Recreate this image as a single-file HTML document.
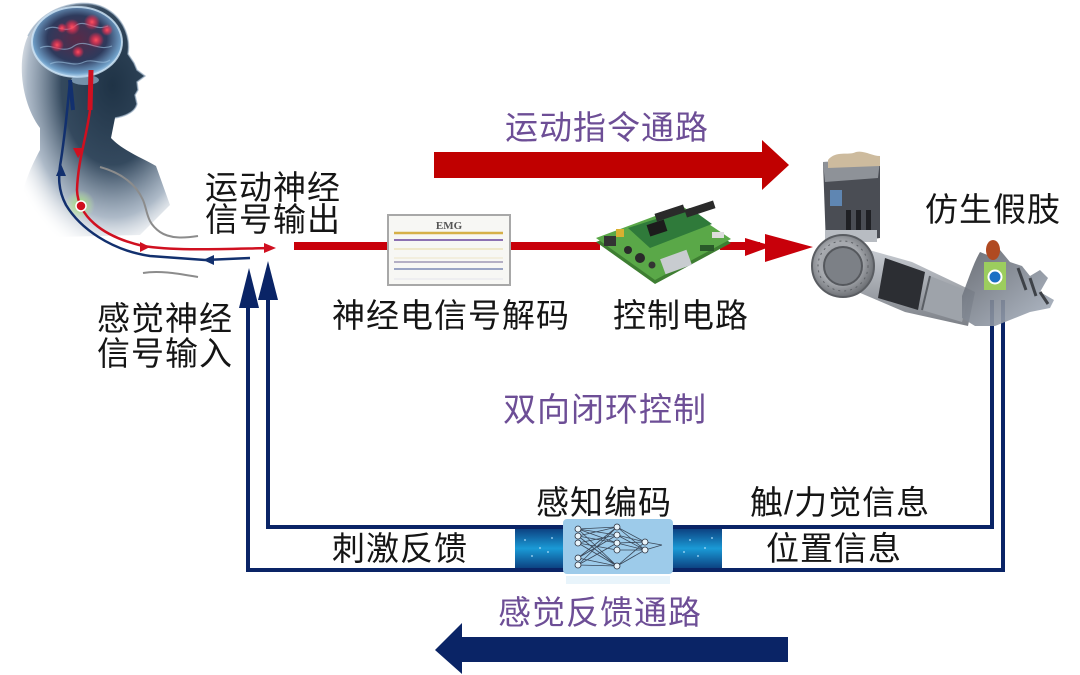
<!DOCTYPE html>
<html><head><meta charset="utf-8">
<style>
html,body{margin:0;padding:0;background:#fff;}
#c{position:relative;width:1080px;height:675px;overflow:hidden;background:#fff;}
svg{position:absolute;left:0;top:0;}
.t{font-family:"Liberation Sans","Noto Sans CJK SC",sans-serif;font-size:33px;letter-spacing:1px;}
</style></head><body><div id="c">
<svg width="1080" height="675" viewBox="0 0 1080 675" xmlns="http://www.w3.org/2000/svg">
<defs>
  <radialGradient id="headg" cx="0.62" cy="0.35" r="0.75">
    <stop offset="0" stop-color="#1f3346"/>
    <stop offset="0.45" stop-color="#34495e"/>
    <stop offset="0.75" stop-color="#8a9cb0" stop-opacity="0.7"/>
    <stop offset="1" stop-color="#ffffff" stop-opacity="0"/>
  </radialGradient>
  <radialGradient id="braing" cx="0.5" cy="0.45" r="0.55">
    <stop offset="0" stop-color="#5a2a48"/>
    <stop offset="0.6" stop-color="#2e3a5c"/>
    <stop offset="0.9" stop-color="#6f9fc8"/>
    <stop offset="1" stop-color="#b8d8f0"/>
  </radialGradient>
  <radialGradient id="redglow" cx="0.5" cy="0.5" r="0.5">
    <stop offset="0" stop-color="#ff5060"/>
    <stop offset="0.5" stop-color="#ff3050" stop-opacity="0.6"/>
    <stop offset="1" stop-color="#ff3050" stop-opacity="0"/>
  </radialGradient>
  <radialGradient id="greenglow" cx="0.5" cy="0.5" r="0.5">
    <stop offset="0" stop-color="#9be070"/>
    <stop offset="1" stop-color="#c8f0a0" stop-opacity="0"/>
  </radialGradient>
  <linearGradient id="band" x1="0" y1="0" x2="0" y2="1">
    <stop offset="0" stop-color="#0b3a7a"/>
    <stop offset="0.5" stop-color="#1a9ad6"/>
    <stop offset="1" stop-color="#0b3a7a"/>
  </linearGradient>
  <radialGradient id="disk" cx="0.45" cy="0.45" r="0.55">
    <stop offset="0" stop-color="#8a8d92"/>
    <stop offset="0.6" stop-color="#a8abb0"/>
    <stop offset="1" stop-color="#6e7176"/>
  </radialGradient>
  <linearGradient id="fore" x1="0" y1="0" x2="0" y2="1">
    <stop offset="0" stop-color="#c8ccd2"/>
    <stop offset="1" stop-color="#7d8188"/>
  </linearGradient>
  <linearGradient id="hand" x1="0" y1="0" x2="1" y2="1">
    <stop offset="0" stop-color="#5c6068"/>
    <stop offset="1" stop-color="#aab4c2"/>
  </linearGradient>
</defs>

<!-- ===== HEAD ===== -->
<path d="M40 128 C22 104 16 62 28 36 C42 8 78 -2 100 6 C121 14 131 34 128 54 L134 63 L137 70 L145 76 L137 82 L138 90 L135 95 L137 104 C135 112 126 116 115 118 L111 138 C122 150 142 158 156 166 L170 205 L140 235 L20 238 C14 205 28 172 40 150 Z" fill="url(#headg)"/>
<path d="M28 36 C42 8 78 -2 100 6 C121 14 131 34 128 54 L134 63 L137 70 L145 76 L137 82 L138 90 L135 95 L137 104 C135 112 126 116 115 118" fill="none" stroke="#9fb4c8" stroke-width="1.5" opacity="0.7"/>
<ellipse cx="77" cy="42" rx="45" ry="35" fill="url(#braing)"/>
<ellipse cx="77" cy="42" rx="45" ry="35" fill="none" stroke="#cfe6f7" stroke-width="2" opacity="0.8"/>
<path d="M45 30 C55 22 65 35 75 26 C85 18 95 32 108 26 M40 48 C52 42 62 55 74 46 C86 38 98 52 112 46 M50 64 C62 58 72 68 84 62 C94 58 102 66 110 60" fill="none" stroke="#9cc2e0" stroke-width="1.2" opacity="0.6"/>
<ellipse cx="85" cy="80" rx="14" ry="5" fill="#a6c8e2" opacity="0.6"/>
<g>
  <circle cx="72" cy="27" r="8" fill="url(#redglow)"/>
  <circle cx="92" cy="22" r="8" fill="url(#redglow)"/>
  <circle cx="57" cy="45" r="7" fill="url(#redglow)"/>
  <circle cx="96" cy="40" r="8" fill="url(#redglow)"/>
  <circle cx="78" cy="52" r="6" fill="url(#redglow)"/>
  <circle cx="107" cy="30" r="6" fill="url(#redglow)"/>
  <circle cx="62" cy="28" r="5" fill="url(#redglow)"/>
</g>
<!-- shoulder outlines -->
<path d="M100 167 C118 172 135 182 143 200 C148 212 146 222 160 232 C170 239 185 238 198 236" fill="none" stroke="#8c8c8c" stroke-width="2"/>
<path d="M143 273 C160 270 180 274 198 277" fill="none" stroke="#8c8c8c" stroke-width="2"/>
<!-- green glow -->
<circle cx="80" cy="205" r="15" fill="url(#greenglow)"/>
<!-- blue nerve -->
<path d="M250 258 L205 260 L150 256 C110 250 80 228 66 205 C58 190 58 176 61 160 C64 140 67 115 70 80" fill="none" stroke="#12306e" stroke-width="2.5"/>
<path d="M70 80 L73 110" stroke="#12306e" stroke-width="4"/>
<polygon points="203,260 214,255 214,265" fill="#12306e"/>
<polygon points="61,164 56,176 66,176" fill="#12306e"/>
<!-- red nerve -->
<path d="M91 70 L90 110" stroke="#d01020" stroke-width="5"/>
<path d="M90 110 C86 140 78 160 77 190 C78 215 100 236 143 246 C175 251 220 249 270 248" fill="none" stroke="#d01020" stroke-width="2.5"/>
<polygon points="78,158 73,148 84,148" fill="#d01020"/>
<polygon points="150,247 140,242 140,252" fill="#d01020"/>
<polygon points="276,248 264,243 264,253" fill="#d01020"/>
<circle cx="81" cy="206" r="5" fill="#d01020" stroke="#fff" stroke-width="1.5"/>

<!-- ===== TOP RED ARROW ===== -->
<rect x="434" y="152" width="330" height="26" fill="#c00000"/>
<polygon points="762,140 789,165 762,190" fill="#c00000"/>

<!-- ===== BOTTOM BLUE ARROW ===== -->
<rect x="460" y="637" width="328" height="25" fill="#0a2466"/>
<polygon points="462,623 435,650 462,674" fill="#0a2466"/>

<!-- ===== MIDDLE RED LINE ===== -->
<rect x="294" y="242" width="96" height="8" fill="#c8000a"/>
<rect x="510" y="242" width="90" height="8" fill="#c8000a"/>
<rect x="720" y="242" width="40" height="8" fill="#c8000a"/>
<polygon points="745,238 772,246 745,256" fill="#c8000a"/>
<polygon points="765,234 813,247 765,262" fill="#c8000a"/>

<!-- EMG box -->
<rect x="388" y="215" width="122" height="70" fill="#f7f7f4" stroke="#a8a8a8" stroke-width="2"/>
<text x="449" y="229" text-anchor="middle" font-family="Liberation Serif,serif" font-size="11" font-weight="bold" fill="#555">EMG</text>
<line x1="394" y1="233" x2="503" y2="233" stroke="#d6b048" stroke-width="2.5"/>
<line x1="394" y1="240" x2="503" y2="240" stroke="#7d5ea8" stroke-width="1.8"/>
<line x1="394" y1="249" x2="503" y2="249" stroke="#eadfb0" stroke-width="1.2"/>
<line x1="394" y1="258" x2="503" y2="258" stroke="#eee4c8" stroke-width="1"/>
<line x1="394" y1="262" x2="503" y2="262" stroke="#8c84a8" stroke-width="1.2"/>
<line x1="394" y1="269" x2="503" y2="269" stroke="#6272a6" stroke-width="1.2"/>
<line x1="394" y1="279" x2="503" y2="279" stroke="#e6e6ec" stroke-width="1"/>

<!-- PCB board -->
<polygon points="596,242 682,210 731,243 655,284" fill="#3e7e32"/>
<polygon points="596,238 682,206 731,239 655,280" fill="#5aa848"/>
<polygon points="628,228 690,208 712,224 650,248" fill="#2f7a3a"/>
<rect x="648" y="222" width="18" height="12" fill="#1c1c1c" transform="rotate(-18 657 228)"/>
<rect x="655" y="209" width="30" height="8" fill="#2a2a2a" transform="rotate(-18 670 213)"/>
<rect x="685" y="205" width="30" height="8" fill="#2a2a2a" transform="rotate(-18 700 209)"/>
<rect x="662" y="254" width="28" height="16" fill="#c8ccd0" transform="rotate(-20 676 262)"/>
<rect x="604" y="236" width="12" height="10" fill="#333"/>
<rect x="616" y="229" width="8" height="8" fill="#d8b030"/>
<circle cx="640" cy="258" r="5" fill="#2a2a2a"/>
<circle cx="628" cy="250" r="4" fill="#2a2a2a"/>
<circle cx="652" cy="265" r="3.5" fill="#333"/>
<rect x="700" y="245" width="14" height="6" fill="#2a5a2a"/>
<rect x="712" y="232" width="12" height="6" fill="#ddd"/>

<!-- ===== FEEDBACK LOOP LINES ===== -->
<path d="M1003 300 L1003 570 L248 570 L248 305" fill="none" stroke="#0a2466" stroke-width="4"/>
<path d="M992 300 L992 527 L268 527 L268 298" fill="none" stroke="#0a2466" stroke-width="4"/>
<polygon points="249,268 239,308 259,308" fill="#0a2466"/>
<polygon points="268,261 258,300 278,300" fill="#0a2466"/>

<!-- band -->
<rect x="515" y="527" width="207" height="43" fill="url(#band)"/>
<g fill="#bfe8ff" opacity="0.7">
  <circle cx="525" cy="540" r="1"/><circle cx="540" cy="548" r="1"/><circle cx="532" cy="556" r="1"/>
  <circle cx="552" cy="538" r="1"/><circle cx="548" cy="552" r="1"/>
  <circle cx="690" cy="540" r="1"/><circle cx="705" cy="548" r="1"/><circle cx="698" cy="556" r="1"/>
  <circle cx="712" cy="538" r="1"/><circle cx="684" cy="552" r="1"/>
</g>
<line x1="515" y1="527" x2="722" y2="527" stroke="#0a2466" stroke-width="4"/>
<line x1="515" y1="570" x2="722" y2="570" stroke="#0a2466" stroke-width="4"/>
<!-- NN box -->
<rect x="563" y="519" width="110" height="55" rx="4" fill="#9dcbea"/>
<rect x="566" y="576" width="104" height="8" fill="#d8ecf8" opacity="0.6"/>
<g stroke="#2a3240" stroke-width="0.8" fill="none" opacity="0.85">
  <path d="M578 529 L617 527 M578 529 L617 535 M578 529 L617 543 M578 529 L617 566 M578 536 L617 527 M578 536 L617 543 M578 536 L617 566 M578 543 L617 535 M578 543 L617 566 M578 543 L617 550 M578 558 L617 527 M578 558 L617 535 M578 565 L617 543 M578 565 L617 527 M578 558 L617 566 M578 565 L617 566"/>
  <path d="M617 527 L645 542 M617 535 L645 542 M617 543 L645 550 M617 550 L645 550 M617 566 L645 542 M617 566 L645 550 M617 527 L645 550 M617 535 L645 550 M617 543 L645 542"/>
  <path d="M645 542 L662 545 M645 550 L662 545"/>
</g>
<g fill="#e8f4fb" stroke="#2a3240" stroke-width="0.8">
  <circle cx="578" cy="529" r="3"/><circle cx="578" cy="536" r="3"/><circle cx="578" cy="543" r="3"/>
  <circle cx="578" cy="558" r="3"/><circle cx="578" cy="565" r="3"/>
  <circle cx="617" cy="527" r="3"/><circle cx="617" cy="535" r="3"/><circle cx="617" cy="543" r="3"/>
  <circle cx="617" cy="550" r="3"/><circle cx="617" cy="566" r="3"/>
  <circle cx="645" cy="542" r="3"/><circle cx="645" cy="550" r="3"/>
</g>

<!-- ===== PROSTHETIC ARM ===== -->
<g>
  <!-- forearm -->
  <polygon points="862,248 912,262 975,292 968,326 905,312 858,292" fill="url(#fore)"/>
  <polygon points="885,258 925,272 918,310 878,298" fill="#2c2e33"/>
  <polygon points="930,276 970,292 962,322 922,310" fill="#9ea3aa"/>
  <line x1="930" y1="276" x2="922" y2="310" stroke="#5a5e64" stroke-width="2"/>
  <!-- upper column -->
  <polygon points="823,162 880,160 880,238 826,246" fill="#4a4d54"/>
  <polygon points="823,162 880,160 878,178 825,182" fill="#8e9298"/>
  <path d="M828 160 C836 150 848 156 856 152 C864 150 872 156 880 156 L880 166 L828 168 Z" fill="#cdbb9e"/>
  <rect x="830" y="190" width="12" height="16" fill="#5f86b2"/>
  <rect x="846" y="210" width="5" height="24" fill="#1f2024"/>
  <rect x="856" y="210" width="5" height="24" fill="#1f2024"/>
  <rect x="866" y="210" width="5" height="24" fill="#1f2024"/>
  <rect x="825" y="230" width="52" height="12" fill="#b8bcc2"/>
  <!-- elbow disk -->
  <circle cx="843" cy="266" r="31" fill="url(#disk)"/>
  <circle cx="843" cy="266" r="31" fill="none" stroke="#5a5d62" stroke-width="2"/>
  <circle cx="843" cy="266" r="19" fill="#7c8086" stroke="#55585d" stroke-width="2"/>
  <circle cx="843" cy="266" r="25" fill="none" stroke="#5e6166" stroke-width="1" stroke-dasharray="2 4"/>
  <!-- hand -->
  <path d="M962 296 C968 280 974 262 980 252 L990 256 L1000 250 L1010 262 L1022 266 L1030 276 L1040 270 L1048 278 L1040 292 L1054 300 L1050 308 L1030 312 L1015 318 L995 326 L975 326 L962 318 Z" fill="url(#hand)" opacity="0.9"/>
  <path d="M1018 268 L1026 290 M1030 278 L1036 296 M1040 292 L1048 304" stroke="#3e4248" stroke-width="3" fill="none"/>
  <rect x="984" y="262" width="22" height="28" fill="#9ccd5e"/>
  <circle cx="995" cy="277" r="6.5" fill="#1a6fc4" stroke="#fff" stroke-width="2"/>
  <ellipse cx="993" cy="250" rx="7" ry="10" fill="#b04a22"/>
</g>
</svg>

<svg width="1080" height="675" viewBox="0 0 1080 675" xmlns="http://www.w3.org/2000/svg">
<g class="t" fill="#6d4e96">
  <text x="505" y="139">运动指令通路</text>
  <text x="503" y="421">双向闭环控制</text>
  <text x="498" y="624">感觉反馈通路</text>
</g>
<g class="t" fill="#151515">
  <text x="205" y="199">运动神经</text>
  <text x="205" y="231">信号输出</text>
  <text x="97" y="330">感觉神经</text>
  <text x="97" y="365">信号输入</text>
  <text x="332" y="327">神经电信号解码</text>
  <text x="613" y="327">控制电路</text>
  <text x="925" y="221">仿生假肢</text>
  <text x="536" y="514">感知编码</text>
  <text x="750" y="514">触/力觉信息</text>
  <text x="332" y="560">刺激反馈</text>
  <text x="766" y="560">位置信息</text>
</g>
</svg>
</div></body></html>
